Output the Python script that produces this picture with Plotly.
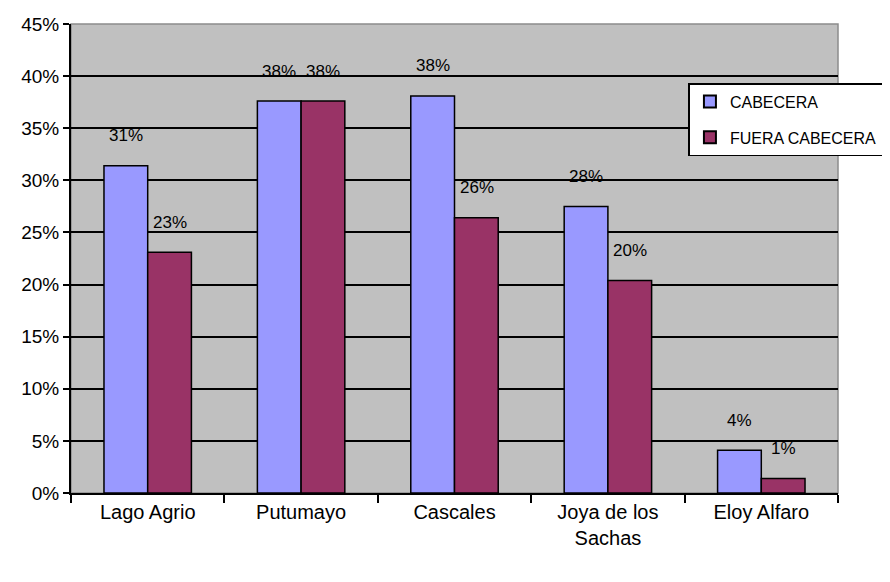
import plotly.graph_objects as go

categories = ['Lago Agrio', 'Putumayo', 'Cascales', 'Joya de los<br>Sachas', 'Eloy Alfaro']
cabecera = [31.4, 37.6, 38.1, 27.5, 4.1]
fuera_cabecera = [23.1, 37.6, 26.4, 20.4, 1.4]
y_ticks = [0, 5, 10, 15, 20, 25, 30, 35, 40, 45]

fig = go.Figure()
fig.add_trace(go.Bar(x=categories, y=cabecera, name='CABECERA', legendgroup='a',
                     marker=dict(color='#9999FF', line=dict(color='black', width=1.5))))
fig.add_trace(go.Bar(x=categories, y=fuera_cabecera, name='FUERA CABECERA', legendgroup='b',
                     marker=dict(color='#993366', line=dict(color='black', width=1.5))))

# Excel-style data labels floating above the bars
for i, cat in enumerate(categories):
    for vals, shift in ((cabecera, -22), (fuera_cabecera, 22)):
        fig.add_annotation(x=cat, y=vals[i], text=f'{round(vals[i]):.0f}%',
                           xshift=shift, yshift=30, showarrow=False,
                           font=dict(family='Liberation Sans, Arial', size=17, color='black'))

# thin grey frame of the plot area
fig.add_shape(type='rect', xref='paper', yref='paper', x0=0, x1=1, y0=0, y1=1,
              line=dict(color='#8c8c8c', width=1.5), layer='below')

fig.update_layout(
    width=890, height=582,
    margin=dict(l=63, r=60, t=16, b=97),
    paper_bgcolor='white', plot_bgcolor='#C0C0C0',
    barmode='group', bargap=0.43, bargroupgap=0,
    font=dict(family='Liberation Sans, Arial', size=19, color='black'),
    showlegend=True,
    legend=dict(x=0.805, y=0.874, xanchor='left', yanchor='top',
                bgcolor='white', bordercolor='black', borderwidth=1.5,
                font=dict(size=16), itemsizing='constant', itemwidth=30,
                tracegroupgap=12),
)
fig.update_xaxes(showline=True, linecolor='black', linewidth=2, mirror=False,
                 ticks='outside', tickson='boundaries', ticklen=8, tickwidth=2,
                 tickcolor='black', showgrid=False, tickfont=dict(size=20),
                 automargin=False)
fig.update_yaxes(range=[0, 45], tickvals=y_ticks, ticktext=[f'{v}%' for v in y_ticks],
                 showline=True, linecolor='black', linewidth=2,
                 ticks='outside', ticklen=6, tickwidth=2, tickcolor='black',
                 showgrid=True, gridcolor='black', gridwidth=2, zeroline=False,
                 automargin=False)

fig.write_html('out.html')
